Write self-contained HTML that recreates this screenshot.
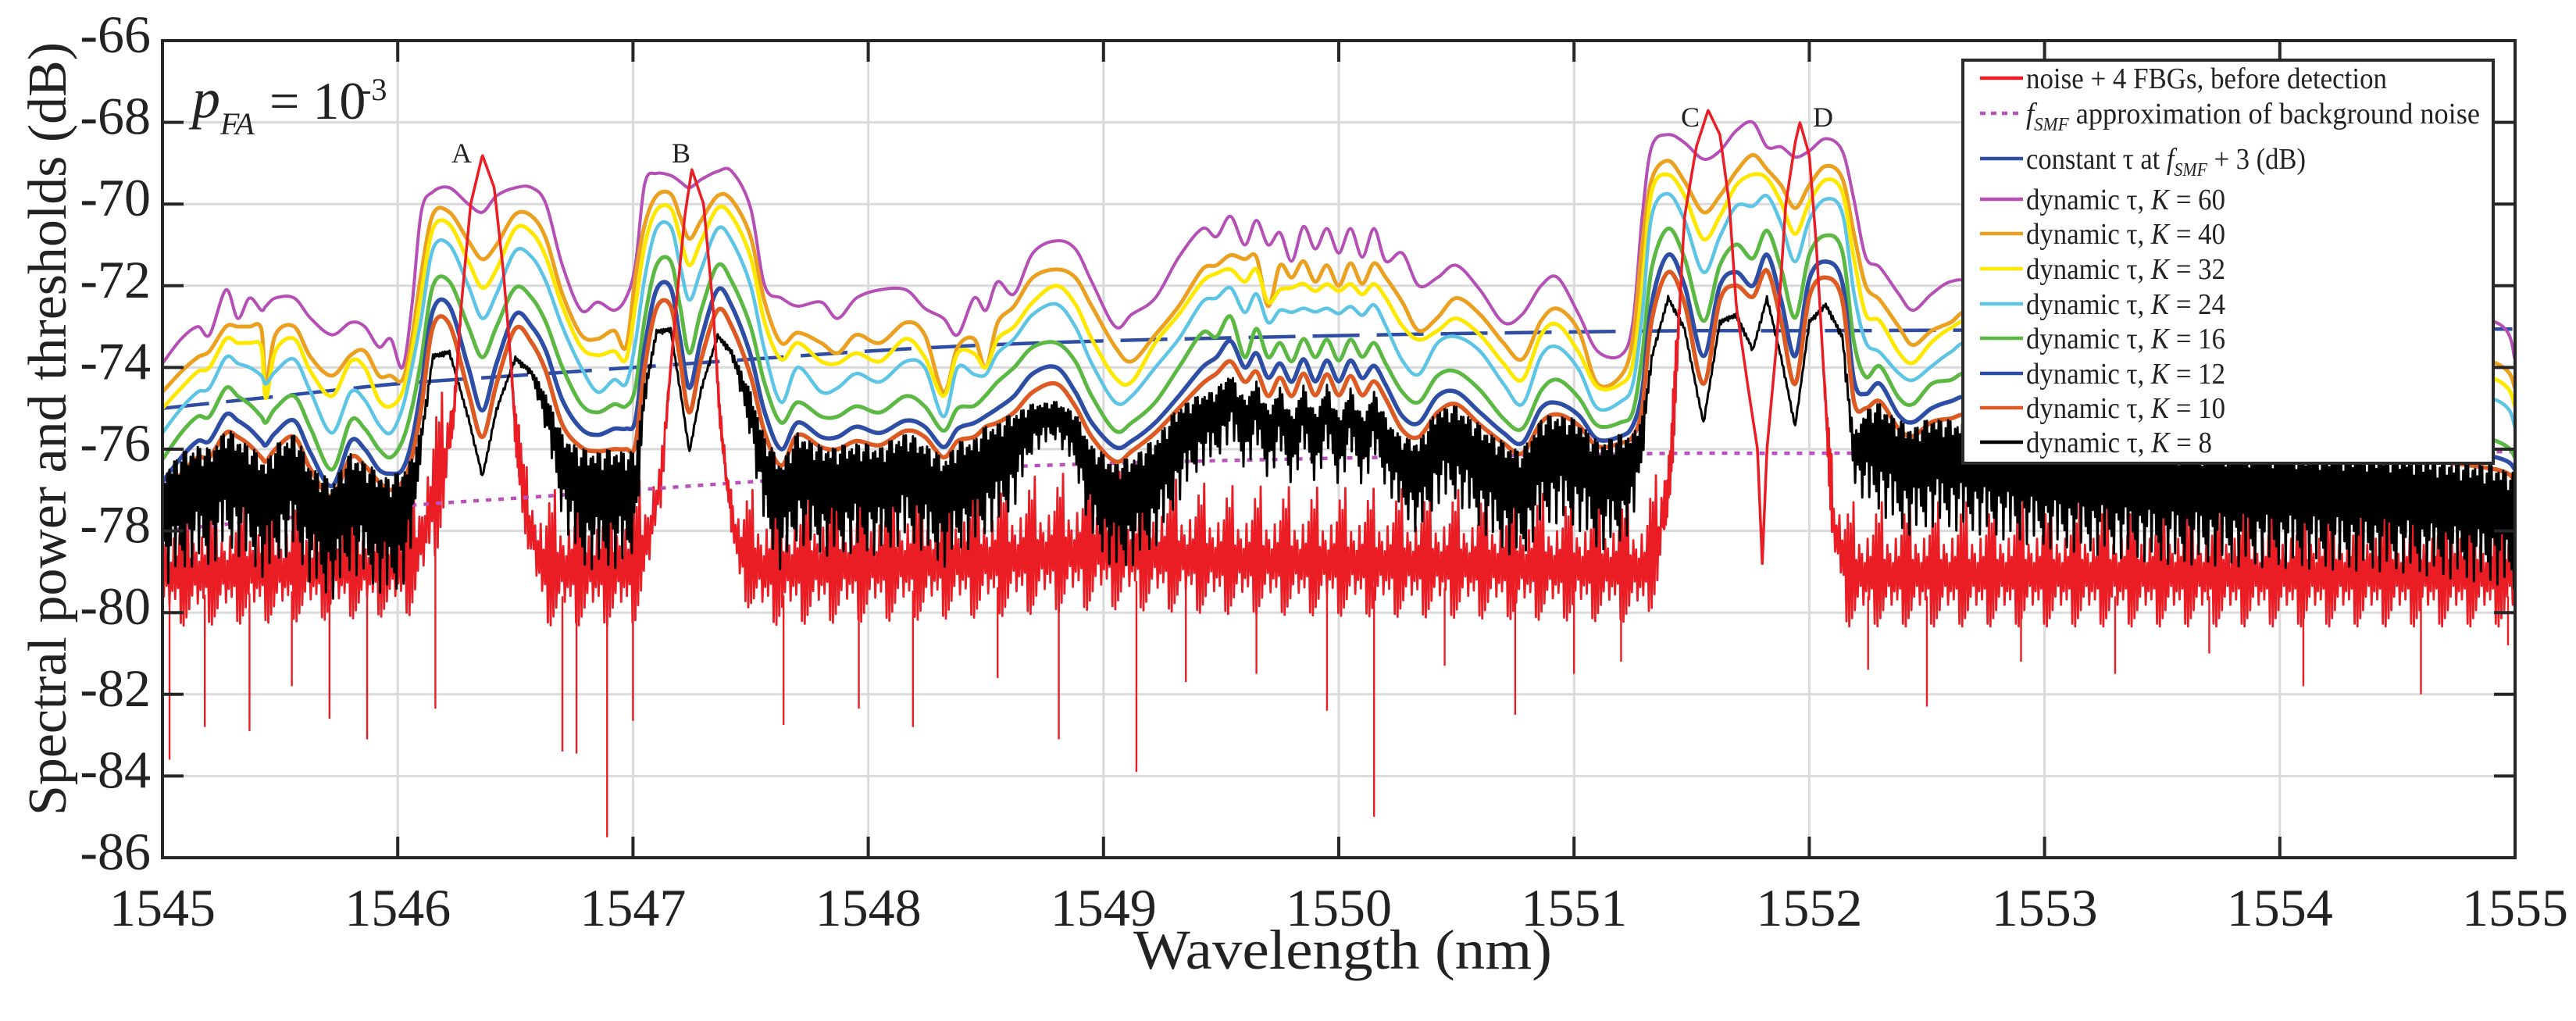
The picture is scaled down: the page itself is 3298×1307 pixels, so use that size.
<!DOCTYPE html>
<html><head><meta charset="utf-8"><title>Spectral power and thresholds</title>
<style>html,body{margin:0;padding:0;background:#fff}svg{display:block}text{font-family:"Liberation Serif",serif;fill:#222}</style>
</head><body>
<svg id="chart" xmlns="http://www.w3.org/2000/svg" width="3298" height="1307" viewBox="0 0 3298 1307">
<rect x="0" y="0" width="3298" height="1307" fill="#fff"/>
<defs><clipPath id="plotclip"><rect x="208" y="52" width="3012" height="1046"/></clipPath></defs>
<g id="grid"></g>
<g id="series" clip-path="url(#plotclip)"></g>
<g id="labels">
<text x="591" y="208" font-size="36" text-anchor="middle">A</text>
<text x="872" y="208" font-size="36" text-anchor="middle">B</text>
<text x="2164" y="162" font-size="36" text-anchor="middle">C</text>
<text x="2334" y="162" font-size="36" text-anchor="middle">D</text>
</g>
<g>
<text x="246" y="150" font-size="72" font-style="italic">p</text>
<text x="282" y="172" font-size="40" font-style="italic">FA</text>
<text x="345" y="152" font-size="68">= 10</text>
<text x="462" y="128" font-size="40">-3</text>
</g>
<g id="legend">
<rect x="2513" y="77" width="679" height="516" fill="#fff" stroke="#2a2a2a" stroke-width="4"/>
</g>
<g id="axes"></g>
<text x="1719" y="1240" font-size="72" text-anchor="middle" textLength="536" lengthAdjust="spacingAndGlyphs">Wavelength (nm)</text>
<text transform="translate(84,549) rotate(-90)" x="0" y="0" font-size="70" text-anchor="middle" textLength="990" lengthAdjust="spacingAndGlyphs">Spectral power and thresholds (dB)</text>
</svg>
<script>
const wl = [1545.00,1545.08,1545.15,1545.20,1545.27,1545.32,1545.37,1545.42,1545.44,1545.48,
1545.56,1545.63,1545.72,1545.80,1545.86,1545.92,1545.97,1546.02,1546.06,1546.10,
1546.15,1546.22,1546.30,1546.36,1546.42,1546.50,1546.57,1546.63,1546.70,1546.78,
1546.85,1546.92,1546.97,1547.01,1547.05,1547.10,1547.16,1547.20,1547.24,1547.29,
1547.36,1547.42,1547.50,1547.56,1547.63,1547.70,1547.80,1547.87,1547.95,1548.05,
1548.16,1548.24,1548.32,1548.38,1548.45,1548.50,1548.55,1548.62,1548.70,1548.80,
1548.88,1548.95,1549.05,1549.12,1549.22,1549.32,1549.42,1549.48,1549.54,1549.60,
1549.65,1549.70,1549.75,1549.80,1549.85,1549.90,1549.95,1550.00,1550.05,1550.10,
1550.15,1550.20,1550.27,1550.34,1550.42,1550.50,1550.60,1550.70,1550.78,1550.86,
1550.93,1551.02,1551.10,1551.20,1551.25,1551.29,1551.33,1551.40,1551.47,1551.55,
1551.62,1551.69,1551.76,1551.82,1551.88,1551.94,1552.00,1552.07,1552.14,1552.19,
1552.24,1552.30,1552.38,1552.44,1552.52,1552.60,1552.70,1553.00,1553.50,1554.00,
1554.50,1554.92,1555.00];
const k60 = [-73.9,-73.3,-73.0,-73.2,-72.1,-72.8,-72.3,-72.6,-72.5,-72.3,
-72.3,-72.8,-73.2,-72.9,-73.0,-73.5,-73.3,-74.0,-72.5,-70.2,
-69.7,-69.6,-70.0,-70.2,-69.8,-69.6,-69.6,-70.0,-71.5,-72.6,
-72.4,-72.6,-72.3,-71.5,-69.5,-69.25,-69.3,-69.45,-69.6,-69.4,
-69.2,-69.2,-70.1,-72.0,-72.3,-72.5,-72.4,-72.8,-72.3,-72.1,
-72.1,-72.55,-72.8,-73.2,-72.3,-72.6,-71.9,-72.2,-71.2,-70.9,
-71.1,-71.9,-73.0,-72.7,-72.3,-71.3,-70.6,-70.8,-70.3,-71.0,
-70.4,-71.0,-70.7,-71.4,-70.55,-71.1,-70.6,-71.2,-70.6,-71.3,
-70.6,-71.4,-71.2,-72.0,-71.8,-71.5,-72.1,-72.9,-72.7,-72.0,
-71.8,-72.7,-73.6,-73.7,-72.9,-70.3,-68.6,-68.3,-68.5,-68.9,
-68.7,-68.2,-68.0,-68.6,-68.6,-68.85,-68.7,-68.4,-68.7,-69.9,
-71.3,-71.55,-72.2,-72.6,-72.2,-71.9,-71.9,-72.3,-72.5,-72.4,
-72.6,-72.9,-73.8];
const k40 = [-74.6,-74.1,-73.75,-73.6,-73.0,-73.0,-73.0,-73.05,-74.4,-73.2,
-73.0,-73.75,-74.2,-73.7,-73.6,-74.2,-74.2,-74.3,-73.3,-71.7,
-70.25,-70.2,-70.9,-71.35,-71.0,-70.25,-70.3,-70.85,-72.2,-73.2,
-73.3,-73.1,-73.5,-71.8,-70.5,-69.8,-69.75,-70.3,-70.85,-70.4,
-69.8,-69.9,-70.8,-72.4,-73.4,-73.15,-73.4,-73.65,-73.2,-73.4,
-72.9,-73.2,-74.6,-73.5,-73.3,-74.0,-72.9,-72.5,-71.8,-71.6,
-71.8,-72.5,-73.5,-73.85,-73.2,-72.5,-71.6,-71.5,-71.25,-71.35,
-71.3,-72.5,-71.5,-71.8,-71.4,-71.9,-71.5,-72.0,-71.45,-71.95,
-71.45,-71.8,-72.4,-73.1,-72.78,-72.3,-72.7,-73.4,-73.8,-72.86,
-72.56,-73.1,-74.4,-74.2,-73.3,-71.0,-69.4,-68.94,-69.45,-70.2,
-69.8,-69.2,-68.8,-69.15,-69.54,-70.1,-69.54,-69.07,-69.37,-70.73,
-72.0,-72.35,-73.0,-73.45,-73.1,-72.9,-72.6,-73.0,-73.2,-73.1,
-73.3,-73.9,-74.5];
const k32 = [-75.0,-74.5,-74.1,-74.0,-73.3,-73.4,-73.4,-73.5,-74.75,-73.6,
-73.3,-74.1,-74.7,-73.85,-74.0,-74.8,-74.95,-74.6,-73.6,-72.2,
-70.6,-70.5,-71.4,-72.05,-71.6,-70.6,-70.7,-71.3,-72.5,-73.5,
-73.7,-73.6,-73.8,-72.5,-71.0,-70.15,-70.1,-70.8,-71.5,-70.9,
-70.1,-70.3,-71.3,-72.9,-73.8,-73.4,-73.85,-73.9,-73.65,-73.85,
-73.3,-73.75,-74.7,-73.65,-73.66,-74.0,-73.3,-73.0,-72.4,-72.0,
-72.45,-73.3,-74.25,-74.35,-73.4,-72.7,-71.9,-71.7,-71.6,-71.9,
-71.6,-72.4,-72.1,-72.05,-71.95,-72.13,-71.96,-72.13,-71.96,-72.21,
-71.96,-72.3,-72.98,-73.32,-73.1,-72.8,-73.2,-73.9,-74.3,-73.2,
-72.95,-73.63,-74.48,-74.4,-73.9,-72.0,-69.7,-69.28,-69.8,-70.86,
-70.3,-69.54,-69.28,-69.37,-69.96,-70.73,-69.96,-69.41,-69.71,-71.33,
-72.7,-72.86,-73.63,-73.89,-73.38,-73.04,-72.86,-73.3,-73.6,-73.5,
-73.7,-74.3,-74.95];
const k24 = [-75.6,-75.0,-74.6,-74.5,-73.75,-73.9,-74.0,-74.2,-74.4,-74.1,
-73.8,-74.6,-75.6,-74.6,-74.8,-75.4,-75.6,-75.0,-74.0,-72.8,
-71.1,-71.0,-72.0,-72.8,-72.2,-71.15,-71.3,-71.9,-73.0,-74.0,
-74.6,-74.3,-74.4,-73.4,-71.8,-70.6,-70.55,-71.5,-72.35,-71.6,
-70.6,-70.9,-72.0,-73.6,-74.85,-74.0,-74.6,-74.5,-74.15,-74.35,
-73.85,-74.0,-75.2,-74.0,-74.17,-74.17,-73.65,-73.3,-72.7,-72.45,
-73.0,-73.9,-74.85,-74.7,-74.0,-73.3,-72.4,-72.3,-72.05,-72.65,
-72.2,-72.9,-72.6,-72.65,-72.55,-72.64,-72.55,-72.68,-72.51,-72.72,
-72.47,-72.98,-73.83,-74.17,-73.4,-73.25,-73.6,-74.4,-74.9,-73.72,
-73.5,-74.05,-75.0,-74.83,-74.4,-72.7,-70.3,-69.75,-70.4,-71.67,
-70.8,-70.05,-70.05,-69.8,-70.47,-71.41,-70.39,-69.88,-70.22,-72.18,
-73.38,-73.63,-74.14,-74.31,-73.97,-73.63,-73.38,-73.9,-74.2,-74.1,
-74.3,-74.8,-75.45];
const k16 = [-76.25,-75.6,-75.2,-75.2,-74.5,-74.7,-74.9,-75.2,-75.35,-75.0,
-74.7,-75.5,-76.5,-75.3,-75.5,-76.0,-76.2,-75.8,-75.0,-73.8,
-72.0,-71.9,-73.0,-73.75,-73.0,-72.05,-72.3,-72.9,-74.0,-74.9,
-75.1,-74.9,-74.95,-74.5,-72.8,-71.5,-71.4,-72.5,-73.65,-72.6,
-71.5,-71.9,-73.0,-74.4,-75.35,-74.85,-75.2,-75.2,-74.95,-75.1,
-74.7,-74.95,-75.55,-75.0,-74.94,-74.68,-74.35,-74.0,-73.5,-73.4,
-73.85,-74.7,-75.55,-75.35,-74.85,-74.0,-73.15,-73.25,-72.75,-73.75,
-73.05,-73.75,-73.4,-73.85,-73.3,-73.75,-73.32,-73.83,-73.32,-73.74,
-73.4,-73.91,-74.6,-74.85,-74.2,-74.1,-74.55,-75.25,-75.5,-74.57,
-74.3,-74.74,-75.42,-75.34,-75.08,-73.7,-71.58,-70.6,-71.33,-72.86,
-71.5,-70.99,-71.33,-70.65,-71.58,-72.78,-71.24,-70.77,-71.16,-73.38,
-74.23,-73.97,-74.74,-74.9,-74.4,-74.31,-74.14,-74.7,-75.0,-74.9,
-75.1,-75.8,-76.2];
const k12 = [-76.8,-76.2,-75.8,-75.8,-75.15,-75.3,-75.5,-75.8,-75.9,-75.6,
-75.3,-76.1,-76.9,-75.8,-76.0,-76.5,-76.6,-76.5,-75.8,-74.5,
-72.6,-72.5,-74.0,-75.05,-73.9,-72.7,-73.0,-73.6,-74.8,-75.5,
-75.65,-75.5,-75.5,-75.3,-73.5,-72.1,-72.05,-73.3,-74.5,-73.3,
-72.1,-72.5,-73.7,-75.1,-76.0,-75.35,-75.7,-75.7,-75.45,-75.6,
-75.3,-75.45,-75.95,-75.5,-75.36,-75.19,-75.0,-74.7,-74.15,-74.0,
-74.6,-75.35,-75.95,-75.8,-75.35,-74.7,-74.0,-73.75,-73.35,-74.0,
-73.65,-74.25,-73.9,-74.35,-73.8,-74.34,-73.83,-74.34,-73.83,-74.26,
-73.96,-74.43,-75.19,-75.36,-74.7,-74.6,-75.1,-75.6,-75.85,-75.0,
-74.87,-75.17,-75.76,-75.68,-75.42,-74.57,-72.44,-71.24,-72.0,-73.72,
-72.0,-71.67,-72.0,-71.24,-72.35,-73.72,-71.84,-71.41,-71.92,-74.31,
-74.65,-74.4,-75.17,-75.34,-75.0,-74.83,-74.74,-75.3,-75.6,-75.6,
-75.8,-76.2,-76.5];
const k10 = [-77.2,-76.6,-76.2,-76.2,-75.6,-75.7,-75.9,-76.2,-76.3,-76.0,
-75.7,-76.5,-77.15,-76.2,-76.4,-76.8,-77.0,-76.8,-76.2,-75.0,
-73.0,-72.95,-74.6,-75.7,-74.4,-73.05,-73.4,-74.1,-75.4,-75.95,
-76.05,-76.0,-76.0,-75.9,-74.0,-72.55,-72.5,-73.8,-75.1,-73.8,
-72.6,-73.0,-74.2,-75.6,-76.4,-75.65,-75.95,-76.0,-75.8,-75.9,
-75.55,-75.7,-76.2,-75.8,-75.7,-75.45,-75.35,-75.1,-74.6,-74.4,
-74.95,-75.7,-76.3,-76.05,-75.6,-75.0,-74.4,-74.15,-73.85,-74.35,
-74.1,-74.7,-74.25,-74.7,-74.15,-74.68,-74.17,-74.68,-74.21,-74.68,
-74.34,-74.77,-75.53,-75.7,-75.1,-74.9,-75.4,-75.85,-76.1,-75.35,
-75.15,-75.42,-75.93,-75.85,-75.68,-75.0,-72.86,-71.67,-72.44,-74.4,
-72.35,-72.0,-72.27,-71.63,-72.86,-74.4,-72.27,-71.8,-72.35,-74.83,
-75.0,-74.83,-75.5,-75.68,-75.34,-75.25,-75.17,-75.7,-76.0,-76.0,
-76.2,-76.5,-76.8];
const k8 = [-77.0,-76.6,-76.4,-76.5,-76.0,-76.2,-76.4,-76.7,-76.8,-76.4,
-76.1,-76.9,-77.3,-76.6,-76.8,-77.1,-77.2,-77.0,-76.6,-75.6,
-73.7,-73.6,-75.2,-76.65,-75.0,-73.75,-74.1,-74.8,-76.0,-76.5,
-76.55,-76.5,-76.55,-76.5,-74.5,-73.1,-73.05,-74.5,-76.05,-74.5,
-73.2,-73.6,-74.8,-76.1,-76.8,-76.05,-76.4,-76.4,-76.3,-76.4,
-76.05,-76.3,-76.7,-76.3,-76.2,-75.9,-75.8,-75.5,-75.1,-75.0,
-75.35,-76.3,-76.8,-76.65,-76.2,-75.35,-74.95,-74.85,-74.4,-75.1,
-74.6,-75.35,-74.75,-75.5,-74.7,-75.45,-74.68,-75.53,-74.77,-75.53,
-74.85,-75.53,-76.04,-76.21,-75.4,-75.35,-75.85,-76.3,-76.5,-75.7,
-75.6,-75.76,-76.28,-76.1,-76.0,-75.4,-73.72,-72.27,-73.03,-75.34,
-72.86,-72.69,-73.55,-72.27,-73.72,-75.42,-72.86,-72.44,-73.2,-75.85,
-75.42,-75.34,-75.76,-75.93,-75.68,-75.76,-75.85,-76.2,-76.4,-76.5,
-76.6,-76.9,-77.1];
const k8Band = [2.5,2.5,2.5,2.5,2.5,2.5,2.5,2.5,2.5,2.5,
2.5,2.5,2.5,2.5,2.5,2.5,2.5,2.5,2.0,0.5,
0.1,0.1,0.1,0.1,0.1,0.1,0.15,0.8,1.8,2.5,
2.5,2.5,2.5,2.0,0.5,0.1,0.1,0.1,0.1,0.1,
0.1,0.15,1.0,2.0,2.3,2.3,2.3,2.3,2.3,2.3,
2.3,2.3,2.3,2.3,2.3,2.3,2.2,2.0,1.0,0.8,
1.2,2.0,2.3,2.3,2.3,2.0,1.5,1.5,1.4,1.5,
1.4,1.5,1.4,1.5,1.4,1.5,1.4,1.5,1.4,1.5,
1.4,1.5,1.6,2.0,2.0,2.0,2.2,2.3,2.3,2.3,
2.3,2.3,2.3,2.3,2.0,1.0,0.15,0.1,0.1,0.1,
0.1,0.1,0.1,0.1,0.1,0.1,0.1,0.1,0.15,1.0,
2.0,2.3,2.3,2.3,2.3,2.3,2.3,2.3,2.5,2.5,
2.5,2.5,2.5];
const redWl = [1545.00,1545.50,1546.05,1546.10,1546.15,1546.20,1546.24,1546.27,1546.31,1546.36,1546.41,1546.45,1546.48,1546.50,1546.55,1546.62,1547.00,1547.06,1547.12,1547.16,1547.19,1547.22,1547.25,1547.30,1547.34,1547.37,1547.40,1547.45,1547.55,1548.50,1549.00,1549.50,1550.50,1551.30,1551.36,1551.41,1551.47,1551.52,1551.57,1551.62,1551.66,1551.69,1551.74,1551.78,1551.80,1551.82,1551.86,1551.90,1551.94,1551.96,1552.00,1552.03,1552.06,1552.10,1552.16,1555.00];
const redHi = [-77.3,-77.2,-77.3,-76.5,-75.0,-74.5,-74.5,-72.5,-70.0,-68.8,-69.6,-71.7,-73.8,-75.0,-76.5,-77.0,-77.0,-76.5,-76.0,-74.0,-72.1,-70.3,-69.15,-70.0,-72.5,-75.0,-76.5,-77.0,-77.0,-76.8,-76.5,-76.9,-77.0,-77.2,-76.5,-75.4,-70.3,-68.6,-67.7,-68.3,-70.0,-72.5,-74.5,-76.0,-78.8,-76.0,-73.5,-70.0,-68.5,-68.0,-68.8,-71.0,-74.0,-76.5,-77.3,-77.3];
const redLo = [-80.6,-80.5,-80.3,-79.8,-79.2,-78.0,-75.5,-72.5,-70.0,-68.8,-69.6,-71.7,-73.8,-76.0,-78.8,-80.6,-80.6,-79.8,-77.5,-74.0,-72.1,-70.3,-69.15,-70.0,-72.5,-75.5,-77.2,-79.8,-80.6,-80.4,-80.2,-80.3,-80.4,-80.5,-79.8,-77.6,-70.3,-68.6,-67.7,-68.3,-70.0,-72.5,-74.5,-76.0,-78.8,-76.0,-73.5,-70.0,-68.5,-68.0,-68.8,-71.0,-74.0,-78.8,-80.6,-80.6];
const redSpikeW = [1545.03,1545.18,1545.37,1545.55,1545.71,1545.87,1546.16,1546.70,1546.76,1546.89,1547.00,1547.64,1547.96,1548.19,1548.55,1548.81,1549.14,1549.35,1549.65,1549.95,1550.15,1550.45,1550.75,1551.00,1551.20,1552.25,1552.50,1552.90,1553.30,1553.70,1554.10,1554.60,1554.97];
const redSpikeV = [-83.6,-82.8,-82.9,-81.8,-82.6,-83.1,-82.35,-83.4,-83.45,-85.5,-82.65,-82.75,-82.35,-82.8,-81.6,-83.1,-83.9,-81.7,-81.5,-82.4,-85.0,-81.3,-82.5,-81.5,-81.2,-81.4,-82.3,-81.2,-81.5,-81.0,-81.8,-82.0,-80.8];
const fsmfWl = [1545,1545.5,1546,1546.5,1547,1547.5,1548,1548.5,1549,1549.5,1550,1550.5,1551,1551.5,1552,1553,1554,1555];
const fsmf = [-78.0,-77.7,-77.4,-77.2,-77.0,-76.8,-76.6,-76.45,-76.35,-76.28,-76.22,-76.17,-76.13,-76.1,-76.1,-76.08,-76.07,-76.06];
const constTau = [-75.0,-74.7,-74.4,-74.2,-74.0,-73.8,-73.6,-73.45,-73.35,-73.28,-73.22,-73.17,-73.13,-73.1,-73.1,-73.08,-73.07,-73.06];
const xTicks = [1545,1546,1547,1548,1549,1550,1551,1552,1553,1554,1555];
const yTicks = [-66,-68,-70,-72,-74,-76,-78,-80,-82,-84,-86];

const NS = 'http://www.w3.org/2000/svg';
const X0 = 208, X1 = 3220, Y0 = 52, Y1 = 1098;
const tex = [0.95,0.25,0.7,0.05,0.85,0.4,1.0,0.15,0.6,0.3,0.9,0.1,0.55,0.75,0.2,0.8,0.35,0.65,0.0,0.5];
function X(w){ return X0 + (w - 1545) / 10 * (X1 - X0); }
function Y(v){ return Y0 + (-66 - v) / 20 * (Y1 - Y0); }
function mk(tag, attrs, parent){ const e = document.createElementNS(NS, tag); for (const k in attrs) e.setAttribute(k, attrs[k]); parent.appendChild(e); return e; }
function interp(xs, ys, x){
  if (x <= xs[0]) return ys[0];
  for (let i = 1; i < xs.length; i++) if (x <= xs[i]) { const t = (x - xs[i-1]) / (xs[i] - xs[i-1]); return ys[i-1] + t * (ys[i] - ys[i-1]); }
  return ys[ys.length-1];
}
function smooth(xs, ys){
  const n = Math.min(xs.length, ys.length);
  const p = []; for (let i = 0; i < n; i++) p.push([X(xs[i]), Y(ys[i])]);
  let d = 'M' + p[0][0].toFixed(1) + ',' + p[0][1].toFixed(1);
  for (let i = 0; i < n - 1; i++) {
    const p0 = p[i-1] || p[i], p1 = p[i], p2 = p[i+1], p3 = p[i+2] || p[i+1];
    let c1x = p1[0] + (p2[0] - p0[0]) / 6, c1y = p1[1] + (p2[1] - p0[1]) / 6;
    let c2x = p2[0] - (p3[0] - p1[0]) / 6, c2y = p2[1] - (p3[1] - p1[1]) / 6;
    c1x = Math.min(Math.max(c1x, p1[0]), p2[0]); c2x = Math.min(Math.max(c2x, p1[0]), p2[0]);
    d += 'C' + c1x.toFixed(1) + ',' + c1y.toFixed(1) + ' ' + c2x.toFixed(1) + ',' + c2y.toFixed(1) + ' ' + p2[0].toFixed(1) + ',' + p2[1].toFixed(1);
  }
  return d;
}

const grid = document.getElementById('grid');
const series = document.getElementById('series');
const axes = document.getElementById('axes');

xTicks.forEach(t => {
  if (t === 1545 || t === 1555) return;
  const l = mk('line', {x1: X(t), x2: X(t), y1: Y0, y2: Y1, stroke: '#dadada', 'stroke-width': 3}, grid);
  
  
});
yTicks.forEach(t => {
  if (t === -66 || t === -86) return;
  const l = mk('line', {x1: X0, x2: X1, y1: Y(t), y2: Y(t), stroke: '#dadada', 'stroke-width': 3}, grid);
  
  
});

function redPoints(wFrom, wTo, step){
  const pts = []; let i = 0;
  for (let w = wFrom; w <= wTo + 1e-9; w += step, i++) {
    const hi = interp(redWl, redHi, w), lo = interp(redWl, redLo, w);
    const f = tex[i % tex.length];
    const v = (i % 2 === 0) ? hi + (lo - hi) * f * 0.45 : hi + (lo - hi) * (0.6 + 0.4 * f);
    pts.push(X(w).toFixed(1) + ',' + Y(v).toFixed(1));
  }
  return pts.join(' ');
}
const redBand = mk('polyline', {points: redPoints(1545, 1555, 0.006), fill: 'none', stroke: '#ea1d25', 'stroke-width': 2.8, 'stroke-linejoin': 'round'}, series);


const spikes = mk('g', {stroke: '#ea1d25', 'stroke-width': 2.4}, series);


redSpikeW.forEach((w, i) => {
  const l = mk('line', {x1: X(w), x2: X(w), y1: Y(interp(redWl, redLo, w) + 1), y2: Y(redSpikeV[i])}, spikes);
  
  
});

const fs = mk('path', {d: smooth(fsmfWl, fsmf), fill: 'none', stroke: '#bb50bb', 'stroke-width': 4.5, 'stroke-dasharray': '7 9'}, series);


const ct = mk('path', {d: smooth(fsmfWl, constTau), fill: 'none', stroke: '#2f4da3', 'stroke-width': 4.5, 'stroke-dasharray': '60 22'}, series);



const dyn = [
  {vals: k60, color: '#b54fb5', name: 'threshold-k60', w: 4},
  {vals: k40, color: '#eba01f', name: 'threshold-k40', w: 5},
  {vals: k32, color: '#ffe800', name: 'threshold-k32', w: 5},
  {vals: k24, color: '#5cc4e4', name: 'threshold-k24', w: 4.5},
  {vals: k16, color: '#5ab843', name: 'threshold-k16', w: 5},
  {vals: k12, color: '#2e4ea6', name: 'threshold-k12', w: 5.5},
  {vals: k10, color: '#dd5a22', name: 'threshold-k10', w: 5.5}
];
dyn.forEach(s => {
  const p = mk('path', {d: smooth(wl, s.vals), fill: 'none', stroke: s.color, 'stroke-width': s.w, 'stroke-linejoin': 'round'}, series);
  
  
});

(function(){
  const pts = []; let i = 0;
  for (let w = 1545; w <= 1555 + 1e-9; w += 0.005, i++) {
    const c = interp(wl, k8, w), b = interp(wl, k8Band, w);
    const f = tex[(i * 7) % tex.length];
    const v = (i % 2 === 0) ? c + b * 0.2 * f : c - b * (0.4 + 0.7 * f);
    pts.push(X(w).toFixed(1) + ',' + Y(v).toFixed(1));
  }
  const pl = mk('polyline', {points: pts.join(' '), fill: 'none', stroke: '#000', 'stroke-width': 3, 'stroke-linejoin': 'round'}, series);
  
  
})();

[[1546.22, 1546.53], [1547.14, 1547.42], [1551.38, 1552.1]].forEach(r => {
  const pl = mk('polyline', {points: redPoints(r[0], r[1], 0.003), fill: 'none', stroke: '#ea1d25', 'stroke-width': 3.5, 'stroke-linejoin': 'round'}, series);
  
  
});

const legend = document.getElementById('legend');
const rows = [
  {c: '#ea1d25', dash: null, y: 100, name: 'legend-entry-noise'},
  {c: '#bb50bb', dash: '7 7', y: 145, name: 'legend-entry-fsmf'},
  {c: '#2f4da3', dash: null, y: 203, name: 'legend-entry-constant-tau'},
  {c: '#b54fb5', dash: null, y: 255, name: 'legend-entry-k60', k: '60'},
  {c: '#eba01f', dash: null, y: 299, name: 'legend-entry-k40', k: '40'},
  {c: '#ffe800', dash: null, y: 344, name: 'legend-entry-k32', k: '32'},
  {c: '#5cc4e4', dash: null, y: 389, name: 'legend-entry-k24', k: '24'},
  {c: '#5ab843', dash: null, y: 433, name: 'legend-entry-k16', k: '16'},
  {c: '#2e4ea6', dash: null, y: 478, name: 'legend-entry-k12', k: '12'},
  {c: '#dd5a22', dash: null, y: 522, name: 'legend-entry-k10', k: '10'},
  {c: '#000000', dash: null, y: 566, name: 'legend-entry-k8', k: '8'}
];
rows.forEach((r, i) => {
  const g = mk('g', {}, legend);
  
  
  const la = {x1: 2535, x2: 2590, y1: r.y, y2: r.y, stroke: r.c, 'stroke-width': 4.5};
  if (r.dash) la['stroke-dasharray'] = r.dash;
  mk('line', la, g);
  const t = mk('text', {x: 2594, y: r.y + 13, 'font-size': 38, lengthAdjust: 'spacingAndGlyphs'}, g);
  if (i === 0) { t.setAttribute('textLength', 462); t.textContent = 'noise + 4 FBGs, before detection'; }
  else if (i === 1) { t.setAttribute('textLength', 581); t.innerHTML = '<tspan font-style="italic">f</tspan><tspan font-style="italic" font-size="24" dy="9">SMF</tspan><tspan dy="-9"> approximation of background noise</tspan>'; }
  else if (i === 2) { t.setAttribute('textLength', 358); t.innerHTML = 'constant τ at <tspan font-style="italic">f</tspan><tspan font-style="italic" font-size="24" dy="9">SMF</tspan><tspan dy="-9"> + 3 (dB)</tspan>'; }
  else { t.setAttribute('textLength', r.k.length === 1 ? 238 : 255); t.innerHTML = 'dynamic τ, <tspan font-style="italic">K</tspan> = ' + r.k; }
});

const box = mk('rect', {x: X0, y: Y0, width: X1 - X0, height: Y1 - Y0, fill: 'none', stroke: '#262626', 'stroke-width': 4}, axes);


xTicks.forEach(t => {
  const x = X(t);
  mk('line', {x1: x, x2: x, y1: Y1, y2: Y1 - 27, stroke: '#262626', 'stroke-width': 4}, axes);
  mk('line', {x1: x, x2: x, y1: Y0, y2: Y0 + 27, stroke: '#262626', 'stroke-width': 4}, axes);
  const lb = mk('text', {x: x, y: 1185, 'font-size': 68, 'text-anchor': 'middle'}, axes);
  lb.textContent = String(t);
  
  
});
yTicks.forEach(t => {
  const y = Y(t);
  mk('line', {x1: X0, x2: X0 + 27, y1: y, y2: y, stroke: '#262626', 'stroke-width': 4}, axes);
  mk('line', {x1: X1, x2: X1 - 27, y1: y, y2: y, stroke: '#262626', 'stroke-width': 4}, axes);
  const lb = mk('text', {x: 193, y: y + 15, 'font-size': 68, 'text-anchor': 'end'}, axes);
  lb.textContent = String(t);
  
  
});
</script>
</body></html>
